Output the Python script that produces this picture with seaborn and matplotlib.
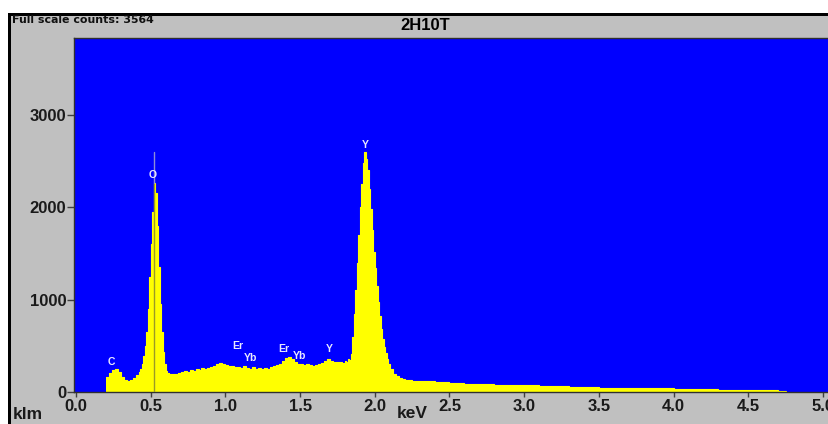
import matplotlib
matplotlib.use("Agg")
import matplotlib.pyplot as plt
import seaborn as sns
import numpy as np
import pandas as pd
from matplotlib.patches import Rectangle

# ---------------- data ----------------
energy_keV = [
    0.20, 0.22, 0.24, 0.26, 0.28, 0.30, 0.32, 0.34, 0.36, 0.38, 0.40, 0.42,
    0.43, 0.44, 0.45, 0.46, 0.47, 0.48, 0.49, 0.50, 0.51, 0.52, 0.53, 0.54,
    0.55, 0.56, 0.57, 0.58, 0.59, 0.60, 0.61,
    0.62, 0.64, 0.66, 0.68, 0.70, 0.72, 0.74, 0.76, 0.78, 0.80, 0.82, 0.84,
    0.86, 0.88, 0.90, 0.92, 0.94, 0.96, 0.98, 1.00, 1.02, 1.04, 1.06, 1.08,
    1.10, 1.12, 1.14, 1.16, 1.18, 1.20, 1.22, 1.24, 1.26, 1.28, 1.30, 1.32,
    1.34, 1.36, 1.38, 1.40, 1.42, 1.44, 1.46, 1.48, 1.50, 1.52, 1.54, 1.56,
    1.58, 1.60, 1.62, 1.64, 1.66, 1.68, 1.70, 1.72, 1.74, 1.76, 1.78,
    1.80, 1.81, 1.82, 1.83, 1.84, 1.85, 1.86, 1.87, 1.88, 1.89, 1.90, 1.91,
    1.92, 1.93, 1.94, 1.95, 1.96, 1.97, 1.98, 1.99, 2.00, 2.01, 2.02, 2.03,
    2.04, 2.05, 2.06, 2.07, 2.08, 2.09,
    2.10, 2.12, 2.14, 2.16, 2.18, 2.20, 2.25,
    2.30, 2.40, 2.50, 2.60, 2.70, 2.80, 2.90, 3.00, 3.10, 3.20, 3.30, 3.40,
    3.50, 3.60, 3.70, 3.80, 3.90, 4.00, 4.10, 4.20, 4.30, 4.40, 4.50, 4.60,
    4.70,
]
counts = [
    160, 205, 235, 245, 215, 160, 128, 122, 135, 150, 185, 215,
    250, 300, 390, 500, 650, 900, 1250, 1600, 1950, 2264, 2150, 1800,
    1350, 950, 650, 430, 300, 230, 205,
    198, 195, 200, 205, 212, 228, 222, 238, 232, 245, 240, 255,
    250, 265, 272, 285, 300, 318, 305, 288, 278, 284, 268, 275,
    262, 278, 258, 252, 268, 248, 255, 245, 258, 252, 268, 278,
    288, 305, 335, 365, 382, 355, 328, 308, 298, 292, 298, 288,
    282, 290, 300, 318, 338, 358, 338, 328, 322, 330, 318,
    338, 325, 360, 345, 410, 600, 850, 1100, 1400, 1700, 2000, 2250,
    2480, 2600, 2520, 2400, 2200, 1980, 1750, 1520, 1340, 1150, 980, 820,
    680, 570, 490, 420, 360, 300,
    250, 200, 170, 150, 138, 130, 122,
    115, 105, 95, 90, 84, 80, 75, 72, 66, 62, 57, 52,
    48, 46, 43, 40, 38, 36, 32, 30, 27, 25, 22, 17,
    10,
]
spectrum_end_keV = 4.75

peak_labels = ["C", "O", "Er", "Yb", "Er", "Yb", "Y", "Y"]
label_keV = [0.238, 0.515, 1.081, 1.165, 1.392, 1.499, 1.693, 1.934]
label_counts = [325, 2345, 493, 363, 466, 390, 466, 2670]

o_marker_keV = 0.52
o_marker_top = 2600

x_ticks = [0.0, 0.5, 1.0, 1.5, 2.0, 2.5, 3.0, 3.5, 4.0, 4.5, 5.0]
y_ticks = [0, 1000, 2000, 3000]
title_text = "2H10T"
full_scale_text = "Full scale counts: 3564"
x_unit = "keV"
corner_text = "klm"

# ---------------- figure ----------------
sns.set_style("ticks")
plt.rcParams["font.family"] = ["Liberation Sans", "DejaVu Sans"]
plt.rcParams["font.weight"] = "bold"

W, H = 829, 424
GRAY = "#C0C0C0"
YELLOW = "#FFFF00"
fig = plt.figure(figsize=(W / 100, H / 100), dpi=100, facecolor=GRAY)

def px_rect(x0, y0, x1, y1, color):
    # pixel box (top-left origin) -> figure fraction rectangle
    fig.patches.append(Rectangle((x0 / W, 1 - y1 / H), (x1 - x0) / W, (y1 - y0) / H,
                                 transform=fig.transFigure, facecolor=color,
                                 edgecolor="none", zorder=0))

px_rect(0, 0, W, 13, "white")
px_rect(0, 0, 8, H, "white")
px_rect(8, 13, W, 15.5, "black")
px_rect(8, 13, 11, H, "black")

ax_left, ax_top, ax_bottom = 74, 38, 392
ax = fig.add_axes([ax_left / W, (H - ax_bottom) / H, (W - ax_left) / W, (ax_bottom - ax_top) / H])
ax.set_facecolor("#0000FF")

# step spectrum: each channel value holds until the next channel start
edges = list(energy_keV) + [spectrum_end_keV]
step_counts = list(counts) + [counts[-1]]
df = pd.DataFrame({"energy": edges, "counts": step_counts})
ax.fill_between(df["energy"], 0, df["counts"], step="post", color=YELLOW,
                linewidth=0, zorder=2)
sns.lineplot(data=df, x="energy", y="counts", drawstyle="steps-post",
             color=YELLOW, linewidth=0.8, ax=ax, zorder=2)

# O marker line
o_idx = energy_keV.index(o_marker_keV)
o_peak = counts[o_idx]
o_x = o_marker_keV + 0.005
ax.plot([o_x, o_x], [0, o_peak], color="#9A9A28", lw=1, zorder=3)
ax.plot([o_x, o_x], [o_peak, o_marker_top], color="#8C8CD8", lw=1, zorder=3)

for lab, xk, yc in zip(peak_labels, label_keV, label_counts):
    ax.text(xk, yc, lab, ha="center", va="center", fontsize=7.5, fontweight="bold",
            color="#E8E8FF", zorder=4)

x_px_per_keV = 149.4
ax.set_xlim(-2 / x_px_per_keV, (W - 76) / x_px_per_keV)
ax.set_ylim(0, (ax_bottom - ax_top) / 92.33 * 1000)

ax.set_xticks(x_ticks)
ax.set_xticklabels([f"{v:.1f}" for v in x_ticks])
ax.set_yticks(y_ticks)
ax.set_yticklabels([str(v) for v in y_ticks])
ax.tick_params(axis="x", length=3.5, width=1, color="#404040", pad=1.5,
               labelsize=12, labelcolor="#1A1A1A", direction="out")
ax.tick_params(axis="y", length=5, width=1, color="#404040", pad=0.5,
               labelsize=12, labelcolor="#1A1A1A", direction="out")
for lbl in ax.get_xticklabels() + ax.get_yticklabels():
    lbl.set_fontweight("bold")

ax.set_xlabel("")
ax.set_ylabel("")
for side in ["left", "bottom", "top"]:
    ax.spines[side].set_visible(True)
    ax.spines[side].set_color("#303030")
    ax.spines[side].set_linewidth(1)
ax.spines["right"].set_visible(False)
ax.grid(False)

fig.text(425 / W, 1 - 25.5 / H, title_text, ha="center", va="center",
         fontsize=12, fontweight="bold", color="#000000")
fig.text(12 / W, 1 - 20 / H, full_scale_text, ha="left", va="center",
         fontsize=7.9, fontweight="bold", color="#101010", family=["DejaVu Sans"])
fig.text(28 / W, 1 - 414.5 / H, corner_text, ha="center", va="center",
         fontsize=12.5, fontweight="bold", color="#1A1A1A")
fig.text(412 / W, 1 - 413 / H, x_unit, ha="center", va="center",
         fontsize=12.5, fontweight="bold", color="#1A1A1A")

fig.savefig("out.png", dpi=100, facecolor=GRAY)
